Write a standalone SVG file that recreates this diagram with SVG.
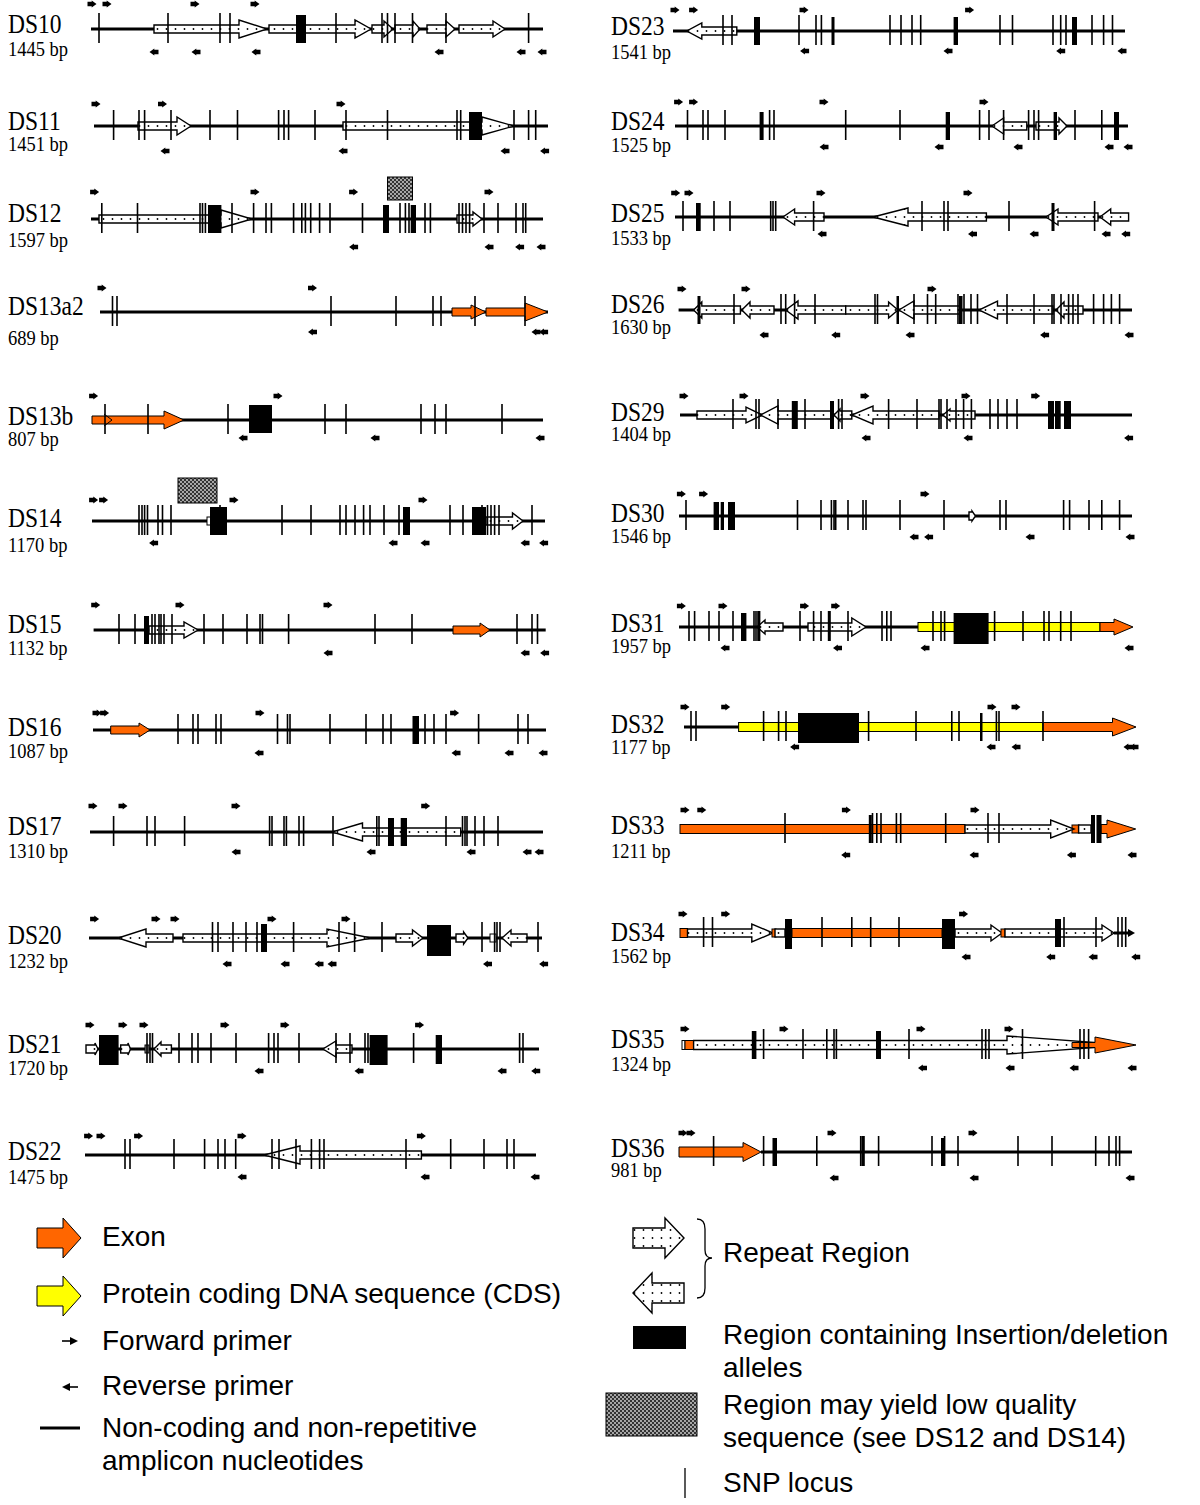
<svg xmlns="http://www.w3.org/2000/svg" width="1200" height="1505" viewBox="0 0 1200 1505">
<defs>
<style>
.ln{stroke:#000;stroke-width:3;fill:none}
.snp{stroke:#000;stroke-width:1.6;fill:none}
.rp{fill:url(#dots);stroke:#000;stroke-width:1.4}
.id{fill:#000}
.ex{fill:#ff6600;stroke:#000;stroke-width:1}
.cds{fill:#ffff00;stroke:#000;stroke-width:1}
.lq{fill:url(#chk);stroke:#000;stroke-width:1}
.wb{fill:#fff;stroke:#000;stroke-width:1}
.nm{font-family:"Liberation Serif","Times New Roman",serif;font-size:23.5px;fill:#000}
.bp{font-family:"Liberation Serif","Times New Roman",serif;font-size:18.5px;fill:#000}
.lg{font-family:"Liberation Sans",Arial,sans-serif;font-size:28px;fill:#000}
</style>
<pattern id="dots" patternUnits="userSpaceOnUse" x="0" y="-4" width="9" height="8"><rect width="9" height="8" fill="#fff"/><circle cx="4.5" cy="4" r="0.9" fill="#000"/></pattern>
<pattern id="chk" patternUnits="userSpaceOnUse" width="4" height="4"><rect width="4" height="4" fill="#333"/><circle cx="1" cy="1" r="0.9" fill="#ddd"/><circle cx="3" cy="3" r="0.9" fill="#ddd"/></pattern>
<path id="f" d="M-4.5-2.2h4.2v-1.4l4.8 3.6-4.8 3.6v-1.4h-4.2z" fill="#000"/>
<path id="r" d="M4.5-2.2h-4.2v-1.4l-4.8 3.6 4.8 3.6v-1.4h4.2z" fill="#000"/>
</defs>
<rect width="1200" height="1505" fill="#fff"/>

<g id="ds10" transform="translate(0 29)">
<text class="nm" transform="translate(8 4) scale(1 1.18)">DS10</text>
<text class="bp" transform="translate(8 27) scale(1 1.18)">1445 bp</text>
<path class="ln" d="M91 0H543"/>
<path class="rp" d="M154-4H239V-9L267 0L239 9V4H154Z"/>
<path class="rp" d="M269-4H355V-9L371 0L355 9V4H269Z"/>
<path class="rp" d="M372-4H384V-8L393 0L384 8V4H372Z"/>
<path class="rp" d="M395-4H413V-8L420 0L413 8V4H395Z"/>
<path class="rp" d="M427-4H446V-8L455 0L446 8V4H427Z"/>
<path class="rp" d="M459-4H493V-8L505 0L493 8V4H459Z"/>
<rect class="id" x="296" y="-14" width="10" height="28"/>
<path class="snp" d="M99-16v30M168-16v30M220-16v30M230-16v30M336-16v30M382-16v30M387.5-16v30M395-16v30M412.5-16v30M446-16v30M528.6-16v30"/>
<use href="#f" x="92" y="-25"/><use href="#f" x="107" y="-25"/><use href="#f" x="195" y="-25"/><use href="#f" x="255" y="-25"/>
<use href="#r" x="154" y="23"/><use href="#r" x="196" y="23"/><use href="#r" x="256" y="23"/><use href="#r" x="439" y="23"/><use href="#r" x="521" y="23"/><use href="#r" x="542" y="23"/>
</g>

<g id="ds11" transform="translate(0 126)">
<text class="nm" transform="translate(8 4) scale(1 1.18)">DS11</text>
<text class="bp" transform="translate(8 25) scale(1 1.18)">1451 bp</text>
<path class="ln" d="M94 0H548"/>
<path class="rp" d="M138-4H177V-9L191 0L177 9V4H138Z"/>
<path class="rp" d="M343-4H482V-9L514 0L482 9V4H343Z"/>
<rect class="id" x="469" y="-14" width="13" height="28"/>
<path class="snp" d="M113.6-16v30M139-16v30M144.6-16v30M171-16v30M210-16v30M237.5-16v30M278.6-16v30M284-16v30M288.6-16v30M315-16v30M346-16v30M387.5-16v30M457-16v30M460.7-16v30M514-16v30M528.6-16v30M535.7-16v30"/>
<use href="#f" x="96" y="-22"/><use href="#f" x="162.5" y="-22"/><use href="#f" x="341" y="-22"/>
<use href="#r" x="165" y="25"/><use href="#r" x="343" y="25"/><use href="#r" x="505" y="25"/><use href="#r" x="544.6" y="25"/>
</g>

<g id="ds12" transform="translate(0 219)">
<text class="nm" transform="translate(8 3) scale(1 1.18)">DS12</text>
<text class="bp" transform="translate(8 28) scale(1 1.18)">1597 bp</text>
<rect class="lq" x="387.5" y="-42" width="25" height="23"/>
<path class="ln" d="M91 0H543"/>
<path class="rp" d="M99-4H221V-9L252 0L221 9V4H99Z"/>
<path class="rp" d="M457-4H473V-7L482 0L473 7V4H457Z"/>
<rect class="id" x="208" y="-14" width="13.4" height="28"/>
<rect class="id" x="383" y="-14" width="6" height="28"/>
<rect class="id" x="410.7" y="-14" width="5.3" height="28"/>
<path class="snp" d="M101.8-16v30M137.5-16v30M200-16v30M202.5-16v30M205.4-16v30M232-16v30M253.6-16v30M266-16v30M271.4-16v30M293.6-16v30M301.8-16v30M305.4-16v30M310.7-16v30M319.6-16v30M330-16v30M362.5-16v30M400-16v30M405.4-16v30M409-16v30M425-16v30M430.4-16v30M459-16v30M462.5-16v30M466-16v30M469.6-16v30M484-16v30M498-16v30M516-16v30M523-16v30M525.7-16v30"/>
<use href="#f" x="94.6" y="-27"/><use href="#f" x="255" y="-27"/><use href="#f" x="353.6" y="-27"/><use href="#f" x="489" y="-27"/>
<use href="#r" x="353.6" y="28"/><use href="#r" x="489" y="28"/><use href="#r" x="519.6" y="28"/><use href="#r" x="541" y="28"/>
</g>

<g id="ds13a2" transform="translate(0 312)">
<text class="nm" transform="translate(8 3) scale(1 1.18)">DS13a2</text>
<text class="bp" transform="translate(8 33) scale(1 1.18)">689 bp</text>
<path class="ln" d="M100 0H548"/>
<path class="ex" d="M452-4H471V-7L486 0L471 7V4H452Z"/>
<path class="ex" d="M486-4H525V-9L548 0L525 9V4H486Z"/>
<path class="snp" d="M112.5-16v30M117-16v30M331-16v30M396-16v30M433-16v30M441-16v30M475-16v30M525-16v30"/>
<use href="#f" x="102" y="-24"/><use href="#f" x="312.5" y="-24"/>
<use href="#r" x="312.5" y="20"/><use href="#r" x="536" y="20"/><use href="#r" x="543.6" y="20"/>
</g>

<g id="ds13b" transform="translate(0 420)">
<text class="nm" transform="translate(8 5) scale(1 1.18)">DS13b</text>
<text class="bp" transform="translate(8 26) scale(1 1.18)">807 bp</text>
<path class="ln" d="M92 0H543"/>
<path class="ex" d="M92-4H164V-9L184 0L164 9V4H92Z"/>
<path d="M104-6L112 0L104 6" fill="none" stroke="#000" stroke-width="1"/>
<rect class="id" x="249" y="-15" width="23" height="28"/>
<path class="snp" d="M105-16v30M148-16v30M228-16v30M325-16v30M346-16v30M421-16v30M435-16v30M446-16v30M502-16v30"/>
<use href="#f" x="93.6" y="-24"/><use href="#f" x="278" y="-24"/>
<use href="#r" x="243" y="18"/><use href="#r" x="375" y="18"/><use href="#r" x="540" y="18"/>
</g>

<g id="ds14" transform="translate(0 521)">
<text class="nm" transform="translate(8 6) scale(1 1.18)">DS14</text>
<text class="bp" transform="translate(8 31) scale(1 1.18)">1170 bp</text>
<rect class="lq" x="178" y="-43" width="39" height="25"/>
<path class="ln" d="M92 0H545"/>
<rect class="wb" x="207" y="-4" width="4" height="8"/>
<path class="rp" d="M486-4H512.5V-8L523 0L512.5 8V4H486Z"/>
<rect class="id" x="210" y="-14" width="17" height="28"/>
<rect class="id" x="403" y="-14" width="7" height="28"/>
<rect class="id" x="472" y="-14" width="14" height="28"/>
<path class="snp" d="M139-16v30M142-16v30M144.6-16v30M147.5-16v30M158-16v30M162.5-16v30M171-16v30M220-16v30M282-16v30M311-16v30M340-16v30M346-16v30M355-16v30M363.6-16v30M370-16v30M384-16v30M399-16v30M450-16v30M463-16v30M482-16v30M487.5-16v30M491-16v30M494.6-16v30M499-16v30M532-16v30"/>
<use href="#f" x="93.6" y="-21"/><use href="#f" x="103.6" y="-21"/><use href="#f" x="234" y="-21"/><use href="#f" x="423" y="-21"/>
<use href="#r" x="153.6" y="22"/><use href="#r" x="393" y="22"/><use href="#r" x="425" y="22"/><use href="#r" x="525" y="22"/><use href="#r" x="543.6" y="22"/>
</g>

<g id="ds15" transform="translate(0 630)">
<text class="nm" transform="translate(8 3) scale(1 1.18)">DS15</text>
<text class="bp" transform="translate(8 25) scale(1 1.18)">1132 bp</text>
<path class="ln" d="M93.6 0H545.7"/>
<path class="rp" d="M149-4H184V-8L198 0L184 8V4H149Z"/>
<path class="ex" d="M453-4H480V-7L490 0L480 7V4H453Z"/>
<rect class="id" x="144" y="-14" width="5" height="28"/>
<path class="snp" d="M119-16v30M135-16v30M152-16v30M155-16v30M159-16v30M161-16v30M164-16v30M172-16v30M204-16v30M223-16v30M247-16v30M260-16v30M262.5-16v30M288.6-16v30M375-16v30M412-16v30M517-16v30M532-16v30M537.5-16v30"/>
<use href="#f" x="95.7" y="-25"/><use href="#f" x="180" y="-25"/><use href="#f" x="328" y="-25"/>
<use href="#r" x="328" y="23"/><use href="#r" x="525" y="23"/><use href="#r" x="544.6" y="23"/>
</g>

<g id="ds16" transform="translate(0 730)">
<text class="nm" transform="translate(8 6) scale(1 1.18)">DS16</text>
<text class="bp" transform="translate(8 28) scale(1 1.18)">1087 bp</text>
<path class="ln" d="M93 0H546"/>
<path class="ex" d="M110.7-4H139V-7L150 0L139 7V4H110.7Z"/>
<rect class="id" x="412.5" y="-14" width="6.5" height="28"/>
<path class="snp" d="M178-16v30M193-16v30M198-16v30M216-16v30M221-16v30M277.5-16v30M287.5-16v30M290-16v30M330-16v30M366-16v30M383-16v30M391-16v30M425-16v30M434-16v30M446-16v30M478.6-16v30M518-16v30M528-16v30"/>
<use href="#f" x="97" y="-17"/><use href="#f" x="104.6" y="-17"/><use href="#f" x="260" y="-17"/><use href="#f" x="454.6" y="-17"/>
<use href="#r" x="259" y="23"/><use href="#r" x="456" y="23"/><use href="#r" x="509" y="23"/><use href="#r" x="543" y="23"/>
</g>

<g id="ds17" transform="translate(0 832)">
<text class="nm" transform="translate(8 3) scale(1 1.18)">DS17</text>
<text class="bp" transform="translate(8 26) scale(1 1.18)">1310 bp</text>
<path class="ln" d="M90 0H543"/>
<path class="rp" d="M460.7-4H362.5V-9L332 0L362.5 9V4H460.7Z"/>
<rect class="id" x="388" y="-14" width="6" height="28"/>
<rect class="id" x="400.7" y="-14" width="6.3" height="28"/>
<path class="snp" d="M113.6-16v30M147-16v30M155-16v30M184.6-16v30M269.6-16v30M272-16v30M284-16v30M286.4-16v30M299-16v30M303.6-16v30M333-16v30M376.8-16v30M379-16v30M446-16v30M462.5-16v30M465-16v30M467-16v30M475-16v30M484-16v30M498-16v30"/>
<use href="#f" x="93" y="-26"/><use href="#f" x="123" y="-26"/><use href="#f" x="236" y="-26"/><use href="#f" x="425.7" y="-26"/>
<use href="#r" x="236" y="20"/><use href="#r" x="371" y="20"/><use href="#r" x="471" y="20"/><use href="#r" x="527" y="20"/><use href="#r" x="539" y="20"/>
</g>

<g id="ds20" transform="translate(0 938)">
<text class="nm" transform="translate(8 6) scale(1 1.18)">DS20</text>
<text class="bp" transform="translate(8 30) scale(1 1.18)">1232 bp</text>
<path class="ln" d="M89 0H542"/>
<path class="rp" d="M173-4H146V-9L118 0L146 9V4H173Z"/>
<path class="rp" d="M183-4H327V-9L371 0L327 9V4H183Z"/>
<path class="rp" d="M396-4H412.5V-8L423 0L412.5 8V4H396Z"/>
<path class="rp" d="M456-4H463.6V-6L468 0L463.6 6V4H456Z"/>
<rect class="wb" x="490" y="-4" width="6" height="8"/>
<path class="rp" d="M527-4H511V-8L502 0L511 8V4H527Z"/>
<rect class="id" x="261" y="-14" width="6" height="28"/>
<rect class="id" x="427" y="-13" width="24" height="31"/>
<path class="snp" d="M212.5-16v30M218-16v30M233-16v30M246-16v30M257-16v30M293.6-16v30M339-16v30M354.6-16v30M382-16v30M482-16v30M494.6-16v30M497-16v30M500-16v30M538-16v30"/>
<use href="#f" x="94.6" y="-19"/><use href="#f" x="156" y="-19"/><use href="#f" x="175" y="-19"/><use href="#f" x="272" y="-19"/><use href="#f" x="346" y="-19"/>
<use href="#r" x="227" y="26"/><use href="#r" x="285" y="26"/><use href="#r" x="319" y="26"/><use href="#r" x="332" y="26"/><use href="#r" x="487.5" y="26"/><use href="#r" x="543.6" y="26"/>
</g>

<g id="ds21" transform="translate(0 1049)">
<text class="nm" transform="translate(8 4) scale(1 1.18)">DS21</text>
<text class="bp" transform="translate(8 26) scale(1 1.18)">1720 bp</text>
<path class="ln" d="M86.4 0H539"/>
<path class="rp" d="M86-4H95V-6L98 0L95 6V4H86Z"/>
<path class="rp" d="M120.7-4H128V-6L130.5 0L128 6V4H120.7Z"/>
<rect x="145" y="-4" width="4" height="8" fill="#888" stroke="#000" stroke-width="1"/>
<path class="rp" d="M171.4-4H161V-7L154 0L161 7V4H171.4Z"/>
<path class="rp" d="M352-4H336V-8L323 0L336 8V4H352Z"/>
<rect class="id" x="99" y="-14" width="19.6" height="30"/>
<rect class="id" x="369.6" y="-14" width="18" height="30"/>
<rect class="id" x="435.7" y="-14" width="6.3" height="29"/>
<path class="snp" d="M147-16v30M150-16v30M152.5-16v30M179-16v30M192-16v30M198-16v30M211-16v30M236-16v30M268.6-16v30M274-16v30M278-16v30M299-16v30M336-16v30M350-16v30M365-16v30M368-16v30M380-14v30M413.6-16v30M519.6-16v30M523-16v30"/>
<use href="#f" x="90" y="-24"/><use href="#f" x="123" y="-24"/><use href="#f" x="144" y="-24"/><use href="#f" x="225" y="-24"/><use href="#f" x="285" y="-24"/><use href="#f" x="419.6" y="-24"/>
<use href="#r" x="259" y="22"/><use href="#r" x="359" y="22"/><use href="#r" x="502" y="22"/><use href="#r" x="535.7" y="22"/>
</g>

<g id="ds22" transform="translate(0 1155)">
<text class="nm" transform="translate(8 5) scale(1 1.18)">DS22</text>
<text class="bp" transform="translate(8 29) scale(1 1.18)">1475 bp</text>
<path class="ln" d="M85 0H536"/>
<path class="rp" d="M421.4-4H300V-9L264 0L300 9V4H421.4Z"/>
<path class="snp" d="M125-16v30M130-16v30M174-16v30M204.6-16v30M218-16v30M225-16v30M235.7-16v30M272-16v30M279-16v30M296-16v30M311.4-16v30M319.6-16v30M324-16v30M406-16v30M450.7-16v30M484-16v30M507-16v30M514-16v30"/>
<use href="#f" x="88.6" y="-19"/><use href="#f" x="101" y="-19"/><use href="#f" x="138.6" y="-19"/><use href="#f" x="242" y="-19"/><use href="#f" x="421.4" y="-19"/>
<use href="#r" x="242" y="22"/><use href="#r" x="425" y="22"/><use href="#r" x="535" y="22"/>
</g>

<g id="ds23" transform="translate(0 31)">
<text class="nm" transform="translate(611 4) scale(1 1.18)">DS23</text>
<text class="bp" transform="translate(611 28) scale(1 1.18)">1541 bp</text>
<path class="ln" d="M673 0H1125"/>
<path class="rp" d="M736.8-4H701.8V-8L686.8 0L701.8 8V4H736.8Z"/>
<rect class="id" x="754" y="-14" width="6" height="28"/>
<rect class="id" x="831.5" y="-14" width="3" height="28"/>
<rect class="id" x="953.6" y="-14" width="4.4" height="28"/>
<rect class="id" x="1072" y="-14" width="5" height="28"/>
<path class="snp" d="M723-16v30M732-16v30M799-16v30M816-16v30M821.4-16v30M890-16v30M901-16v30M912-16v30M920.7-16v30M1000-16v30M1012.5-16v30M1053-16v30M1060.7-16v30M1066-16v30M1092-16v30M1103.6-16v30M1112.5-16v30"/>
<use href="#f" x="675" y="-21"/><use href="#f" x="693.6" y="-21"/><use href="#f" x="804" y="-21"/><use href="#f" x="969.6" y="-21"/>
<use href="#r" x="804.6" y="20"/><use href="#r" x="948" y="20"/><use href="#r" x="1060.7" y="20"/><use href="#r" x="1122" y="20"/>
</g>

<g id="ds24" transform="translate(0 126)">
<text class="nm" transform="translate(611 4) scale(1 1.18)">DS24</text>
<text class="bp" transform="translate(611 26) scale(1 1.18)">1525 bp</text>
<path class="ln" d="M675 0H1128"/>
<path class="rp" d="M1026.8-4H1003.6V-8L992 0L1003.6 8V4H1026.8Z"/>
<path class="rp" d="M1036-4H1059V-8L1067 0L1059 8V4H1036Z"/>
<rect class="id" x="759.6" y="-14" width="4" height="28"/>
<rect class="id" x="945.7" y="-14" width="4.3" height="28"/>
<rect class="id" x="1053.6" y="-14" width="3.4" height="28"/>
<rect class="id" x="1114" y="-14" width="5" height="28"/>
<path class="snp" d="M687.5-16v30M703-16v30M708-16v30M725-16v30M769.6-16v30M774-16v30M845.7-16v30M900-16v30M979.6-16v30M989-16v30M1003.6-16v30M1028.6-16v30M1034-16v30M1038.6-16v30M1075-16v30M1101.8-16v30"/>
<use href="#f" x="678.6" y="-24"/><use href="#f" x="693.6" y="-24"/><use href="#f" x="824" y="-24"/><use href="#f" x="984" y="-24"/>
<use href="#r" x="824" y="21"/><use href="#r" x="939" y="21"/><use href="#r" x="1018" y="21"/><use href="#r" x="1109" y="21"/><use href="#r" x="1128" y="21"/>
</g>

<g id="ds25" transform="translate(0 217)">
<text class="nm" transform="translate(611 5) scale(1 1.18)">DS25</text>
<text class="bp" transform="translate(611 28) scale(1 1.18)">1533 bp</text>
<path class="ln" d="M675 0H1128.6"/>
<path class="rp" d="M824-4H794.6V-8L783 0L794.6 8V4H824Z"/>
<path class="rp" d="M986.4-4H908V-9L873 0L908 9V4H986.4Z"/>
<path class="rp" d="M1098-4H1058V-8L1046 0L1058 8V4H1098Z"/>
<path class="rp" d="M1128.6-4H1110.7V-8L1100 0L1110.7 8V4H1128.6Z"/>
<rect class="id" x="696" y="-14" width="4.7" height="28"/>
<rect class="id" x="1051.5" y="-14" width="3" height="28"/>
<path class="snp" d="M683-16v30M714-16v30M730-16v30M770.7-16v30M773-16v30M775.7-16v30M813.6-16v30M922-16v30M944-16v30M948-16v30M1009-16v30M1094.6-16v30"/>
<use href="#f" x="675.7" y="-24"/><use href="#f" x="689" y="-24"/><use href="#f" x="821" y="-24"/><use href="#f" x="968" y="-24"/>
<use href="#r" x="822" y="17"/><use href="#r" x="972.5" y="17"/><use href="#r" x="1034" y="17"/><use href="#r" x="1106" y="17"/><use href="#r" x="1125.7" y="17"/>
</g>

<g id="ds26" transform="translate(0 310)">
<text class="nm" transform="translate(611 3) scale(1 1.18)">DS26</text>
<text class="bp" transform="translate(611 24) scale(1 1.18)">1630 bp</text>
<path class="ln" d="M678.6 0H1132"/>
<path class="rp" d="M740.4-4H701.8V-8L693.6 0L701.8 8V4H740.4Z"/>
<path class="rp" d="M774-4H750V-8L741.8 0L750 8V4H774Z"/>
<path class="rp" d="M845.7-4H798V-9L785.7 0L798 9V4H845.7Z"/>
<path class="rp" d="M845.7-4H888.6V-8L898 0L888.6 8V4H845.7Z"/>
<path class="rp" d="M960.7-4H914V-9L899 0L914 9V4H960.7Z"/>
<path class="rp" d="M1053-4H997.5V-9L979 0L997.5 9V4H1053Z"/>
<path class="rp" d="M1083-4H1064V-8L1056 0L1064 8V4H1083Z"/>
<rect class="id" x="697.5" y="-14" width="3" height="28"/>
<rect class="id" x="896.5" y="-14" width="2.5" height="28"/>
<rect class="id" x="959" y="-14" width="3.5" height="28"/>
<path class="snp" d="M734-16v30M781-16v30M785.7-16v30M794.6-16v30M815-16v30M875-16v30M877.5-16v30M914-16v30M927.5-16v30M935.7-16v30M958-16v30M964-16v30M971-16v30M977.5-16v30M1007-16v30M1034-16v30M1052-16v30M1054-16v30M1061-16v30M1068.6-16v30M1073-16v30M1078-16v30M1093.6-16v30M1103.6-16v30M1111.4-16v30M1119.6-16v30"/>
<use href="#f" x="682" y="-21"/><use href="#f" x="746" y="-21"/><use href="#f" x="932" y="-21"/>
<use href="#r" x="764" y="25"/><use href="#r" x="835.7" y="25"/><use href="#r" x="910" y="25"/><use href="#r" x="1044.6" y="25"/><use href="#r" x="1129" y="25"/>
</g>

<g id="ds29" transform="translate(0 415)">
<text class="nm" transform="translate(611 6) scale(1 1.18)">DS29</text>
<text class="bp" transform="translate(611 26) scale(1 1.18)">1404 bp</text>
<path class="ln" d="M680 0H1132"/>
<path class="rp" d="M697-4H746V-8L762.5 0L746 8V4H697Z"/>
<path class="rp" d="M832-4H778V-9L760.7 0L778 9V4H832Z"/>
<path class="rp" d="M851.8-4H840V-6L834 0L840 6V4H851.8Z"/>
<path class="rp" d="M939-4H873V-9L851.8 0L873 9V4H939Z"/>
<path class="rp" d="M975-4H950V-6L943 0L950 6V4H975Z"/>
<rect class="id" x="791.8" y="-14" width="6" height="28"/>
<rect class="id" x="830" y="-14" width="4" height="28"/>
<rect class="id" x="1048" y="-14" width="6" height="28"/>
<rect class="id" x="1055" y="-14" width="5.7" height="28"/>
<rect class="id" x="1064" y="-14" width="7" height="28"/>
<path class="snp" d="M733-16v30M756-16v30M759-16v30M778-16v30M805-16v30M838.6-16v30M842-16v30M888.6-16v30M917-16v30M939-16v30M941-16v30M947-16v30M956-16v30M963.6-16v30M971.4-16v30M990-16v30M998-16v30M1007-16v30M1017-16v30"/>
<use href="#f" x="684" y="-19"/><use href="#f" x="744" y="-19"/><use href="#f" x="865" y="-19"/><use href="#f" x="966" y="-19"/><use href="#f" x="1035.7" y="-19"/>
<use href="#r" x="866" y="23"/><use href="#r" x="968" y="23"/><use href="#r" x="1128.6" y="23"/>
</g>

<g id="ds30" transform="translate(0 516)">
<text class="nm" transform="translate(611 6) scale(1 1.18)">DS30</text>
<text class="bp" transform="translate(611 27) scale(1 1.18)">1546 bp</text>
<path class="ln" d="M679 0H1132"/>
<path class="rp" d="M969-4H972V-5L975.5 0L972 5V4H969Z"/>
<rect class="id" x="713.6" y="-14" width="5.4" height="28"/>
<rect class="id" x="720.7" y="-14" width="3.3" height="28"/>
<rect class="id" x="728" y="-14" width="7" height="28"/>
<path class="snp" d="M686-16v30M797.5-16v30M821-16v30M831.4-16v30M834-16v30M835.7-16v30M848-16v30M863-16v30M866-16v30M900-16v30M944-16v30M1000-16v30M1006-16v30M1063.6-16v30M1069.6-16v30M1089-16v30M1101.8-16v30M1119.6-16v30"/>
<use href="#f" x="681.4" y="-22"/><use href="#f" x="703.6" y="-22"/><use href="#f" x="925" y="-22"/>
<use href="#r" x="914" y="21"/><use href="#r" x="928.6" y="21"/><use href="#r" x="1030" y="21"/><use href="#r" x="1130" y="21"/>
</g>

<g id="ds31" transform="translate(0 627)">
<text class="nm" transform="translate(611 5) scale(1 1.18)">DS31</text>
<text class="bp" transform="translate(611 26) scale(1 1.18)">1957 bp</text>
<path class="ln" d="M679 0H918"/>
<path class="rp" d="M783-4H765V-7L757 0L765 7V4H783Z"/>
<path class="rp" d="M808-4H851.8V-9L866 0L851.8 9V4H808Z"/>
<rect class="cds" x="918" y="-4.5" width="182" height="9"/>
<path class="ex" d="M1100-4.5H1114V-8L1133 0L1114 8V4.5H1100Z"/>
<rect class="id" x="741" y="-14" width="5.4" height="28"/>
<rect class="id" x="953.6" y="-14" width="35" height="31"/>
<path class="snp" d="M689-16v30M694.6-16v30M709-16v30M719-16v30M733-16v30M754-16v30M756-16v30M758-16v30M759.6-16v30M800-16v30M813.6-16v30M821-16v30M828.6-16v30M830-16v30M848-16v30M882-16v30M886.8-16v30M891-16v30M933-16v30M941-16v30M944.6-16v30M994.6-16v30M1023-16v30M1044-16v30M1049-16v30M1060.7-16v30M1071-16v30"/>
<use href="#f" x="681.4" y="-21"/><use href="#f" x="723" y="-21"/><use href="#f" x="804.6" y="-21"/><use href="#f" x="835.7" y="-21"/>
<use href="#r" x="725" y="21"/><use href="#r" x="837.5" y="21"/><use href="#r" x="925" y="21"/><use href="#r" x="1129" y="21"/>
</g>

<g id="ds32" transform="translate(0 727)">
<text class="nm" transform="translate(611 6) scale(1 1.18)">DS32</text>
<text class="bp" transform="translate(611 27) scale(1 1.18)">1177 bp</text>
<path class="ln" d="M684 0H738.6"/>
<rect class="cds" x="738.6" y="-4.5" width="304.4" height="9"/>
<path class="ex" d="M1043-4.5H1112.5V-9L1136 0L1112.5 9V4.5H1043Z"/>
<rect class="id" x="798" y="-14" width="61" height="30"/>
<rect class="id" x="980" y="-14" width="2.5" height="28"/>
<path class="snp" d="M691-16v30M696-16v30M763.6-16v30M778.6-16v30M786-16v30M868.6-16v30M916-16v30M951.8-16v30M959-16v30M996.4-16v30M999-16v30M1043-16v30"/>
<use href="#f" x="685" y="-20"/><use href="#f" x="725.7" y="-20"/><use href="#f" x="992" y="-20"/><use href="#f" x="1016" y="-20"/>
<use href="#r" x="794.6" y="20"/><use href="#r" x="991" y="20"/><use href="#r" x="1016" y="20"/><use href="#r" x="1128" y="20"/><use href="#r" x="1134" y="20"/>
</g>

<g id="ds33" transform="translate(0 829)">
<text class="nm" transform="translate(611 5) scale(1 1.18)">DS33</text>
<text class="bp" transform="translate(611 29) scale(1 1.18)">1211 bp</text>
<rect class="ex" x="680" y="-4.5" width="285" height="9"/>
<rect class="ex" x="1072" y="-4" width="7" height="8"/>
<path class="rp" d="M965-4H1050.7V-9L1074 0L1050.7 9V4H965Z"/>
<rect class="rp" x="1078.6" y="-4" width="12.4" height="8"/>
<path class="ex" d="M1101-4.5H1107V-9L1135.7 0L1107 9V4.5H1101Z"/>
<rect class="id" x="1091" y="-14" width="4" height="28"/>
<rect class="id" x="1096.5" y="-14" width="5" height="28"/>
<rect class="id" x="868.8" y="-14" width="3" height="28"/>
<path class="snp" d="M785-16v30M872.5-16v30M876.8-16v30M881-16v30M896.4-16v30M900.7-16v30M945.7-16v30M988-16v30M999-16v30"/>
<use href="#f" x="685" y="-19"/><use href="#f" x="701.8" y="-19"/><use href="#f" x="846.4" y="-19"/><use href="#f" x="975" y="-19"/>
<use href="#r" x="845.7" y="26"/><use href="#r" x="974" y="26"/><use href="#r" x="1071.4" y="26"/><use href="#r" x="1132" y="26"/>
</g>

<g id="ds34" transform="translate(0 933)">
<text class="nm" transform="translate(611 8) scale(1 1.18)">DS34</text>
<text class="bp" transform="translate(611 30) scale(1 1.18)">1562 bp</text>
<path class="ln" d="M1114 0H1130"/>
<path d="M1128-4L1135 0L1128 4Z" fill="#000"/>
<rect class="ex" x="680" y="-4.5" width="7.5" height="9"/>
<path class="rp" d="M687.5-4H751.8V-9L773 0L751.8 9V4H687.5Z"/>
<rect class="ex" x="772" y="-4" width="4" height="8"/>
<rect class="rp" x="775" y="-4" width="10" height="8"/>
<rect class="ex" x="792" y="-4.5" width="150" height="9"/>
<path class="rp" d="M955-4H991V-8L1002 0L991 8V4H955Z"/>
<rect class="ex" x="1001" y="-4" width="4" height="8"/>
<path class="rp" d="M1005-4H1102V-8L1114 0L1102 8V4H1005Z"/>
<rect class="id" x="785" y="-14" width="7" height="30"/>
<rect class="id" x="942" y="-14" width="13" height="30"/>
<rect class="id" x="1055" y="-14" width="6" height="28"/>
<path class="snp" d="M703.6-16v30M712.5-16v30M822-16v30M851.8-16v30M870.7-16v30M899-16v30M1064-16v30M1096-16v30M1118-16v30M1122-16v30M1125.7-16v30"/>
<use href="#f" x="683" y="-19"/><use href="#f" x="725.7" y="-19"/><use href="#f" x="963.6" y="-19"/>
<use href="#r" x="966" y="24"/><use href="#r" x="1050.7" y="24"/><use href="#r" x="1093" y="24"/><use href="#r" x="1135.7" y="24"/>
</g>

<g id="ds35" transform="translate(0 1045)">
<text class="nm" transform="translate(611 3) scale(1 1.18)">DS35</text>
<text class="bp" transform="translate(611 26) scale(1 1.18)">1324 bp</text>
<rect class="wb" x="682" y="-4.5" width="3" height="9"/>
<rect class="ex" x="685" y="-4.5" width="8.6" height="9"/>
<path class="rp" d="M693.6-4.5H1007V-9L1128 0L1007 9V4.5H693.6Z"/>
<path class="ex" d="M1072-2.5H1095V-8L1136 0L1095 8V2.5H1072Z"/>
<rect class="id" x="751.8" y="-14" width="4.6" height="28"/>
<rect class="id" x="876" y="-14" width="5" height="28"/>
<path class="snp" d="M763.6-16v30M803-16v30M826.8-16v30M834-16v30M836.4-16v30M909-16v30M982-16v30M985.7-16v30M989-16v30M1022.5-16v30M1080-16v30M1084-16v30M1088.6-16v30"/>
<use href="#f" x="685" y="-16"/><use href="#f" x="784" y="-16"/><use href="#f" x="921" y="-16"/><use href="#f" x="1009" y="-16"/>
<use href="#r" x="922.5" y="23"/><use href="#r" x="1010" y="23"/><use href="#r" x="1074" y="23"/><use href="#r" x="1132" y="23"/>
</g>

<g id="ds36" transform="translate(0 1152)">
<text class="nm" transform="translate(611 5) scale(1 1.18)">DS36</text>
<text class="bp" transform="translate(611 25) scale(1 1.18)">981 bp</text>
<path class="ln" d="M761 0H1132"/>
<path class="ex" d="M679-5H743V-9.5L761 0L743 9.5V5H679Z"/>
<rect class="id" x="772.5" y="-14" width="4.5" height="28"/>
<rect class="id" x="941" y="-14" width="3" height="28"/>
<path class="snp" d="M713.6-16v30M763.6-16v30M816.8-16v30M860.7-16v30M862.5-16v30M864-16v30M878.6-16v30M932-16v30M944.6-16v30M958-16v30M1018-16v30M1052-16v30M1095.7-16v30M1109-16v30M1116-16v30M1119.6-16v30"/>
<use href="#f" x="683" y="-19"/><use href="#f" x="691" y="-19"/><use href="#f" x="832" y="-19"/><use href="#f" x="973" y="-19"/>
<use href="#r" x="834" y="26"/><use href="#r" x="974" y="26"/><use href="#r" x="1130" y="26"/>
</g>

<g id="legend">
<g id="lg-exon">
<path class="ex" d="M37 1228H63V1218L81 1238L63 1258V1248H37Z" stroke-width="1.3"/>
<text class="lg" x="102" y="1246">Exon</text>
</g>
<g id="lg-cds">
<path class="cds" d="M37 1286H63V1276L81 1296L63 1316V1306H37Z" stroke-width="1.3"/>
<text class="lg" x="102" y="1303">Protein coding DNA sequence (CDS)</text>
</g>
<g id="lg-fwd">
<path d="M62 1341H72" stroke="#000" stroke-width="1.6"/>
<path d="M70 1337L78 1341L70 1345Z" fill="#000"/>
<text class="lg" x="102" y="1350">Forward primer</text>
</g>
<g id="lg-rev">
<path d="M68 1387H78" stroke="#000" stroke-width="1.6"/>
<path d="M70 1383L62 1387L70 1391Z" fill="#000"/>
<text class="lg" x="102" y="1395">Reverse primer</text>
</g>
<g id="lg-line">
<path d="M40 1428H80" stroke="#000" stroke-width="3"/>
<text class="lg" x="102" y="1437">Non-coding and non-repetitive</text>
<text class="lg" x="102" y="1470">amplicon nucleotides</text>
</g>
<g id="lg-repeat">
<g transform="translate(0 1238)"><path class="rp" d="M633-10H665V-20L684 0L665 20V10H633Z" stroke-width="1.5"/></g>
<g transform="translate(0 1293)"><path class="rp" d="M684-10H652V-20L633 0L652 20V10H684Z" stroke-width="1.5"/></g>
<path d="M697 1219Q705 1219 705 1229V1250Q705 1258 712 1258Q705 1258 705 1266V1288Q705 1298 697 1298" fill="none" stroke="#000" stroke-width="1.3"/>
<text class="lg" x="723" y="1262">Repeat Region</text>
</g>
<g id="lg-indel">
<rect x="633" y="1326" width="53" height="23" fill="#000"/>
<text class="lg" x="723" y="1344">Region containing Insertion/deletion</text>
<text class="lg" x="723" y="1377">alleles</text>
</g>
<g id="lg-lq">
<rect class="lq" x="606" y="1393" width="91" height="43"/>
<text class="lg" x="723" y="1414">Region may yield low quality</text>
<text class="lg" x="723" y="1447">sequence (see DS12 and DS14)</text>
</g>
<g id="lg-snp">
<path d="M685 1468V1498" stroke="#000" stroke-width="1.3"/>
<text class="lg" x="723" y="1492">SNP locus</text>
</g>
</g>
</svg>
